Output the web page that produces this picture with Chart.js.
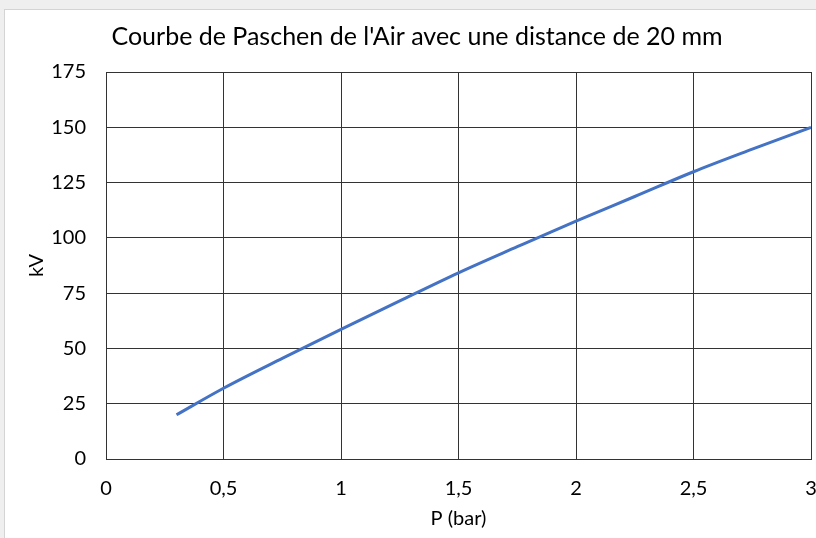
<!DOCTYPE html>
<html>
<head>
<meta charset="utf-8">
<script src="https://cdn.jsdelivr.net/npm/chart.js@4/dist/chart.umd.min.js"></script>
<style>
  html, body { margin: 0; padding: 0; background: #efefef; }
  #panel { position: absolute; left: 4px; top: 9px; right: 0; bottom: 0; background: #fff; border-top: 1px solid #d4d4d4; border-left: 1px solid #d4d4d4; }
  #wrap { position: absolute; left: 0; top: 0; width: 816px; height: 538px; }
</style>
</head>
<body>
<div id="panel"></div>
<div id="wrap"><canvas id="paschen"></canvas></div>
<script>
// Paschen curve of air, gap 20 mm
const pressureBar = [0.3, 0.5, 0.75, 1, 1.25, 1.5, 1.75, 2, 2.25, 2.5, 2.75, 3];
const voltageKV   = [20, 32, 45.5, 58.6, 71.5, 84.2, 96, 107.6, 118.7, 129.9, 140.1, 150];
const xTicks = [0, 0.5, 1, 1.5, 2, 2.5, 3];
const yTicks = [0, 25, 50, 75, 100, 125, 150, 175];

const FONT = 'Lato, "Open Sans", sans-serif';
const gridColor = '#333333';

const points = pressureBar.map((p, i) => ({ x: p, y: voltageKV[i] }));

const ctx = document.getElementById('paschen').getContext('2d');
new Chart(ctx, {
    type: 'scatter',
    data: {
        datasets: [{
            label: 'kV',
            data: points,
            showLine: true,
            borderColor: '#4472C4',
            borderWidth: 3,
            pointRadius: 0,
            tension: 0.4,
            cubicInterpolationMode: 'monotone',
            fill: false
        }]
    },
    options: {
        responsive: true,
        maintainAspectRatio: false,
        animation: false,
        layout: { padding: { top: 10, left: 23, right: 5, bottom: 0 } },
        plugins: {
            legend: { display: false },
            tooltip: { enabled: false },
            title: {
                display: true,
                text: "Courbe de Paschen de l'Air avec une distance de 20 mm",
                color: '#000',
                font: { family: FONT, size: 25, weight: 'normal' },
                padding: { top: 12, bottom: 20 }
            }
        },
        scales: {
            x: {
                type: 'linear',
                min: xTicks[0],
                max: xTicks[xTicks.length - 1],
                afterBuildTicks: scale => { scale.ticks = xTicks.map(v => ({ value: v })); },
                afterFit: scale => {
                    scale.height = 79;
                    scale.paddingLeft = 0;
                    scale.paddingRight = 0;
                },
                ticks: {
                    color: '#000',
                    padding: 18,
                    font: { family: FONT, size: 20 },
                    callback: v => String(v).replace('.', ',')
                },
                grid: { color: gridColor, drawTicks: false },
                border: { color: gridColor },
                title: {
                    display: true,
                    text: 'P (bar)',
                    color: '#000',
                    font: { family: FONT, size: 20 },
                    padding: { top: 0, bottom: 7 }
                }
            },
            y: {
                min: yTicks[0],
                max: yTicks[yTicks.length - 1],
                afterBuildTicks: scale => { scale.ticks = yTicks.map(v => ({ value: v })); },
                afterFit: scale => {
                    scale.width = 83;
                    scale.paddingTop = 0;
                    scale.paddingBottom = 0;
                },
                ticks: {
                    color: '#000',
                    padding: 20,
                    font: { family: FONT, size: 20 }
                },
                grid: { color: gridColor, drawTicks: false },
                border: { color: gridColor },
                title: {
                    display: true,
                    text: 'kV',
                    color: '#000',
                    font: { family: FONT, size: 20 },
                    padding: { top: 2, bottom: 0 }
                }
            }
        }
    }
});
</script>
</body>
</html>
